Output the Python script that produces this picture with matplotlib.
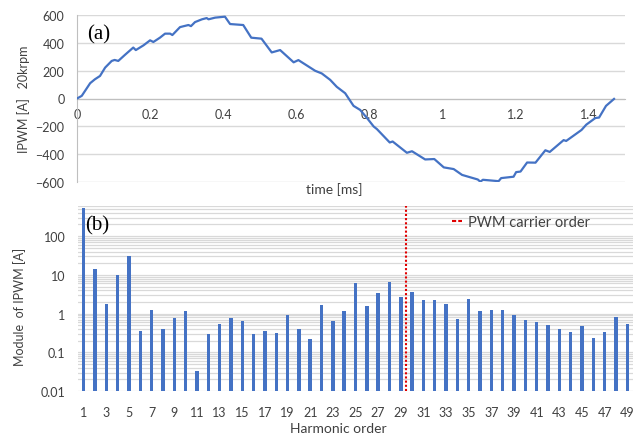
import numpy as np
import matplotlib
matplotlib.use("Agg")
import matplotlib.pyplot as plt
from matplotlib.lines import Line2D
from matplotlib.ticker import LogLocator, FixedLocator, NullFormatter

plt.rcParams['font.family'] = ['Lato', 'DejaVu Sans']

# PWM phase current over one electrical period (20 krpm)
time_ms = [0, 0.013, 0.036, 0.049, 0.063, 0.077, 0.095, 0.103, 0.113, 0.131,
           0.154, 0.161, 0.182, 0.200, 0.209, 0.227, 0.241, 0.255, 0.261, 0.282,
           0.305, 0.312, 0.323, 0.342, 0.355, 0.360, 0.378, 0.405, 0.419, 0.455,
           0.477, 0.505, 0.533, 0.556, 0.593, 0.606, 0.652, 0.670, 0.693, 0.711,
           0.734, 0.757, 0.775, 0.794, 0.812, 0.821, 0.856, 0.864, 0.903, 0.917,
           0.953, 0.978, 1.004, 1.031, 1.054, 1.097, 1.104, 1.111, 1.154, 1.161,
           1.195, 1.202, 1.214, 1.232, 1.255, 1.282, 1.294, 1.332, 1.339, 1.381,
           1.394, 1.419, 1.429, 1.448, 1.470]
current_a = [0, 19, 110, 138, 162, 222, 270, 277, 270, 313,
             366, 348, 382, 418, 406, 437, 466, 466, 456, 513,
             528, 520, 549, 569, 578, 569, 581, 588, 535, 528,
             437, 430, 331, 348, 260, 276, 199, 180, 134, 84,
             38, -53, -82, -141, -201, -220, -316, -309, -390, -379,
             -438, -435, -495, -507, -549, -582, -598, -584, -594, -572,
             -562, -529, -525, -460, -461, -372, -384, -299, -305, -226,
             -188, -140, -137, -53, -3]

# Harmonic spectrum of the PWM current
orders = list(range(1, 50))
amplitude = [520, 13.8, 1.74, 10.1, 29.9, 0.35, 1.27, 0.39, 0.77, 1.15,
             0.033, 0.30, 0.54, 0.76, 0.66, 0.29, 0.36, 0.31, 0.94, 0.39,
             0.22, 1.64, 0.66, 1.17, 6.0, 1.61, 3.47, 6.66, 2.63, 3.6,
             2.2, 2.2, 1.81, 0.74, 2.34, 1.19, 1.24, 1.27, 0.94, 0.70,
             0.62, 0.50, 0.40, 0.34, 0.47, 0.23, 0.34, 0.82, 0.55]
carrier_order = 29.5

blue = '#4472C4'
grid = '#d9d9d9'
txt = '#404040'
W, H = 637, 439

fig = plt.figure(figsize=(W / 100, H / 100), dpi=100)

# ---- (a) time waveform ----
ax1 = fig.add_axes([77 / W, 1 - 183 / H, (625 - 77) / W, (183 - 16) / H])
ax1.plot(time_ms, current_a, color=blue, lw=1.6, zorder=3)
ax1.set_xlim(0, 1.5)
ax1.set_ylim(-600, 600)
ax1.set_yticks(np.arange(-600, 601, 200))
ax1.set_xticks([0, 0.2, 0.4, 0.6, 0.8, 1.0, 1.2, 1.4])
ax1.set_xticklabels(['0', '0.2', '0.4', '0.6', '0.8', '1', '1.2', '1.4'])
ax1.grid(axis='y', color=grid, lw=1.0, zorder=0)
for s in ['top', 'right']:
    ax1.spines[s].set_visible(False)
ax1.spines['left'].set_color('#bfbfbf')
ax1.spines['bottom'].set_position(('data', 0))
ax1.spines['bottom'].set_color('#bfbfbf')
ax1.tick_params(axis='both', length=0, labelsize=9, colors=txt)
ax1.tick_params(axis='x', pad=7)
ax1.tick_params(axis='y', pad=9)
ax1.text(0.018, 0.885, '(a)', transform=ax1.transAxes, family='Liberation Serif',
         fontsize=15, va='center', ha='left')
fig.text(334 / W, 1 - 190 / H, 'time [ms]', ha='center', va='center',
         fontsize=10, color=txt)
fig.text(24 / W, 1 - 99 / H, 'IPWM [A]   20krpm', rotation=90,
         ha='center', va='center', fontsize=9, color=txt)

# ---- (b) harmonic spectrum ----
ax2 = fig.add_axes([78 / W, 1 - 392 / H, (633 - 78) / W, (392 - 207) / H])
ax2.set_yscale('log')
ax2.bar(orders, amplitude, width=0.3, color=blue, zorder=3)
ax2.axvline(carrier_order, color='#e00000', lw=1.5, ls=(0, (1, 1)), zorder=4)
ax2.set_xlim(0.5, 49.5)
ax2.set_ylim(0.01, 600)
ax2.yaxis.set_major_locator(FixedLocator([0.01, 0.1, 1, 10, 100]))
ax2.set_yticklabels(['0.01', '0.1', '1', '10', '100'])
ax2.yaxis.set_minor_locator(LogLocator(base=10, subs=np.arange(2, 10), numticks=20))
ax2.yaxis.set_minor_formatter(NullFormatter())
ax2.grid(axis='y', which='both', color=grid, lw=0.9, zorder=0)
ax2.set_xticks(orders[::2])
for s in ['top', 'right', 'left', 'bottom']:
    ax2.spines[s].set_visible(False)
ax2.tick_params(axis='both', which='both', length=0, labelsize=9, colors=txt)
ax2.tick_params(axis='x', pad=11)
ax2.tick_params(axis='y', pad=9)
ax2.text(0.012, 0.9, '(b)', transform=ax2.transAxes, family='Liberation Serif',
         fontsize=15, va='center', ha='left')
handle = Line2D([], [], color='#e00000', lw=1.5, ls=(0, (2, 1)))
ax2.legend([handle], ['PWM carrier order'], loc='upper left',
           bbox_to_anchor=(0.65, 1.02), frameon=False, fontsize=10.5,
           handlelength=0.7, handletextpad=0.4, labelcolor=txt)
fig.text(338 / W, 1 - 429 / H, 'Harmonic order', ha='center', va='center',
         fontsize=10, color=txt)
fig.text(20 / W, 1 - 307 / H, 'Module  of IPWM [A]', rotation=90,
         ha='center', va='center', fontsize=9, color=txt)

fig.savefig('out.png', dpi=100)
